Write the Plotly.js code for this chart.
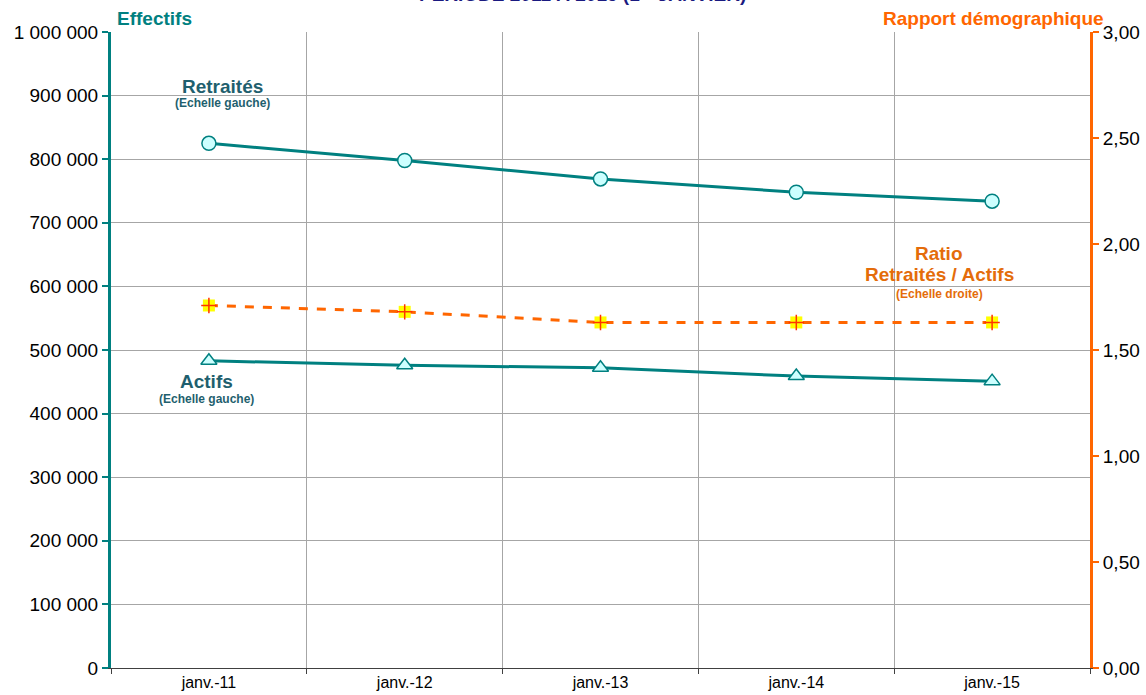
<!DOCTYPE html>
<html><head><meta charset="utf-8">
<script src="https://cdn.plot.ly/plotly-3.0.1.min.js"></script>
<style>body{margin:0;background:#fff}#c{width:1146px;height:695px}</style>
</head><body><div id="c"></div>
<script>
const categories = ["janv.-11","janv.-12","janv.-13","janv.-14","janv.-15"];
const retraites = [825000, 798000, 769000, 748000, 734000];
const actifs = [483000, 476000, 472000, 459000, 451000];
const ratio = [1.71, 1.68, 1.63, 1.63, 1.63];
const leftTicks = [0,100000,200000,300000,400000,500000,600000,700000,800000,900000,1000000];
const rightTicks = [0,0.5,1,1.5,2,2.5,3];

const teal = "#008080", orange = "#FF6600", lbl = "#1F5F6E", olbl = "#E46C0A";
const F = "Liberation Sans, Arial, sans-serif";

const traces = [
  {x: categories, y: retraites, type: "scatter", mode: "lines+markers", name: "Retraités",
   line: {color: teal, width: 3}, marker: {symbol: "circle", size: 14, color: "#CCFFFF", line: {color: teal, width: 1.5}}},
  {x: categories, y: actifs, type: "scatter", mode: "lines+markers", name: "Actifs",
   line: {color: teal, width: 3}, marker: {symbol: "triangle-up", size: 14, color: "#CCFFFF", line: {color: teal, width: 1.5}}},
  {x: categories, y: ratio, type: "scatter", mode: "lines+markers", name: "Ratio", yaxis: "y2",
   line: {color: orange, width: 3, dash: "dash"}, marker: {symbol: "square", size: 12, color: "#FFFF00", line: {width: 0}}},
  {x: categories, y: ratio, type: "scatter", mode: "markers", name: "Ratio+", yaxis: "y2", hoverinfo: "skip",
   marker: {symbol: "cross-thin", size: 11, line: {color: "#FF3300", width: 1.5}}}
];

const layout = {
  width: 1146, height: 695, showlegend: false,
  margin: {l: 111, r: 56, t: 32, b: 27},
  paper_bgcolor: "#fff", plot_bgcolor: "#fff",
  separators: ", ",
  font: {family: F, color: "#000"},
  xaxis: {type: "category", tickson: "boundaries", showgrid: true, gridcolor: "#A6A6A6", gridwidth: 1,
    showline: true, linecolor: "#404040", linewidth: 1, ticks: "outside", ticklen: 5, tickcolor: "#404040",
    tickfont: {size: 16, family: F}, range: [-0.5, 4.5], zeroline: false},
  yaxis: {range: [0, 1000000], tickvals: leftTicks, tickformat: ",d", showgrid: true, gridcolor: "#A6A6A6",
    showline: true, linecolor: teal, linewidth: 3, ticks: "outside", ticklen: 6, tickwidth: 2, tickcolor: teal,
    tickfont: {size: 19, family: F}, zeroline: false},
  yaxis2: {overlaying: "y", side: "right", range: [0, 3], tickvals: rightTicks, tickformat: ".2f", showgrid: false,
    showline: true, linecolor: orange, linewidth: 3, ticks: "outside", ticklen: 6, tickwidth: 2, tickcolor: orange,
    tickfont: {size: 19, family: F}, zeroline: false},
  annotations: [
    {text: "<b>PÉRIODE 2011 À 2015 (1<sup>er</sup> JANVIER)</b>", xref: "paper", yref: "paper", x: 0.482, y: 1.040,
     yanchor: "bottom", showarrow: false, font: {size: 19, color: "#1A1A80", family: F}},
    {text: "<b>Effectifs</b>", xref: "paper", yref: "paper", x: 0.004, y: 1.002, xanchor: "left", yanchor: "bottom",
     showarrow: false, font: {size: 19, color: teal, family: F}},
    {text: "<b>Rapport démographique</b>", xref: "paper", yref: "paper", x: 1.016, y: 1.002, xanchor: "right", yanchor: "bottom",
     showarrow: false, font: {size: 19, color: orange, family: F}},
    {text: "<b>Retraités</b>", xref: "x", yref: "paper", x: 0.07, y: 0.915, yanchor: "middle", showarrow: false, font: {size: 19, color: lbl, family: F}},
    {text: "<b>(Echelle gauche)</b>", xref: "x", yref: "paper", x: 0.07, y: 0.888, yanchor: "middle", showarrow: false, font: {size: 12, color: lbl, family: F}},
    {text: "<b>Actifs</b>", xref: "x", yref: "paper", x: -0.01, y: 0.451, yanchor: "middle", showarrow: false, font: {size: 19, color: lbl, family: F}},
    {text: "<b>(Echelle gauche)</b>", xref: "x", yref: "paper", x: -0.01, y: 0.423, yanchor: "middle", showarrow: false, font: {size: 12, color: lbl, family: F}},
    {text: "<b>Ratio</b>", xref: "x", yref: "paper", x: 3.73, y: 0.651, yanchor: "middle", showarrow: false, font: {size: 19, color: olbl, family: F}},
    {text: "<b>Retraités / Actifs</b>", xref: "x", yref: "paper", x: 3.73, y: 0.618, yanchor: "middle", showarrow: false, font: {size: 19, color: olbl, family: F}},
    {text: "<b>(Echelle droite)</b>", xref: "x", yref: "paper", x: 3.73, y: 0.588, yanchor: "middle", showarrow: false, font: {size: 12, color: olbl, family: F}}
  ]
};
Plotly.newPlot("c", traces, layout, {staticPlot: true, displayModeBar: false});
</script></body></html>
